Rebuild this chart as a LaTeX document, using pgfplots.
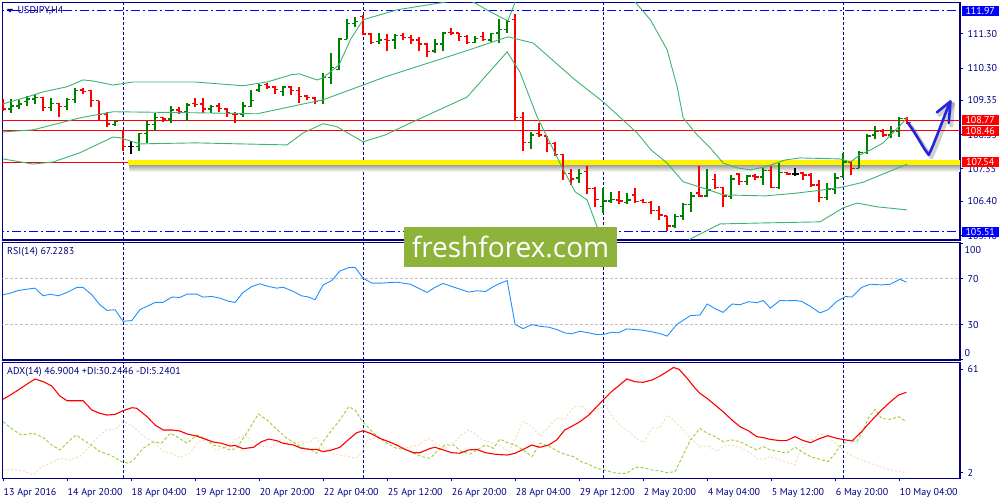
\documentclass[border=0pt]{standalone}
\usepackage{pgfplots}
\pgfplotsset{compat=1.18}
\usepackage{pgfplotstable}
\usepackage{fontspec}
\setmainfont{PT Sans}
\newfontfamily\wmfont{Open Sans}

\definecolor{navyc}{RGB}{0,0,128}
\definecolor{barg}{RGB}{0,128,0}
\definecolor{barr}{RGB}{255,0,0}
\definecolor{bbg}{RGB}{60,179,113}
\definecolor{rsic}{RGB}{30,144,255}
\definecolor{pdi}{RGB}{154,205,50}
\definecolor{mdi}{RGB}{245,218,170}
\definecolor{wm}{RGB}{141,179,58}
\definecolor{arrowb}{RGB}{35,35,225}
\definecolor{lvl}{RGB}{192,192,192}
\newcommand\lf{\fontsize{10}{12}\selectfont}

\pgfplotstableread{
x o h l c
1 109.10 109.40 108.98 109.19
2 109.19 109.37 109.10 109.25
3 109.32 109.47 109.19 109.39
4 109.39 109.54 109.25 109.43
6 109.15 109.42 109.04 109.27
8 109.17 109.43 109.07 109.37
9 109.37 109.71 109.27 109.64
14 108.64 108.78 108.59 108.73
17 108.00 108.41 107.86 108.39
18 108.39 108.76 108.10 108.64
19 108.64 108.98 108.47 108.86
21 108.81 109.19 108.70 109.07
23 109.02 109.27 108.76 109.22
26 109.10 109.21 108.98 109.17
30 108.93 109.32 108.88 109.19
31 109.17 109.66 109.15 109.35
32 109.66 109.83 109.61 109.78
35 109.61 109.78 109.48 109.74
40 109.34 110.16 109.24 110.02
41 110.02 110.75 109.83 110.31
42 110.26 111.17 110.24 111.15
43 111.14 111.73 111.14 111.61
44 111.61 111.80 111.51 111.66
47 111.07 111.33 111.00 111.12
49 111.12 111.29 110.85 111.24
54 110.80 111.14 110.73 111.00
55 111.00 111.36 110.81 111.32
59 111.04 111.24 111.02 111.17
61 111.12 111.32 111.07 111.30
62 111.32 111.73 111.04 111.43
63 111.43 111.71 111.33 111.66
66 108.12 108.44 107.92 108.34
72 107.08 107.34 106.95 107.22
75 106.25 106.78 106.05 106.41
76 106.41 106.66 106.36 106.46
78 106.37 106.64 106.33 106.44
84 105.68 106.02 105.63 105.95
85 105.97 106.36 105.86 106.30
86 106.30 106.66 106.10 106.56
88 106.56 107.34 106.52 106.73
91 106.54 107.17 106.46 107.05
93 106.98 107.17 106.88 107.14
95 107.11 107.37 106.88 107.30
97 106.81 107.52 106.75 107.24
103 106.52 106.93 106.44 106.76
104 106.76 107.22 106.62 107.08
105 107.12 107.81 107.08 107.55
107 107.37 107.86 107.37 107.83
108 107.83 108.37 107.79 108.31
109 108.34 108.59 108.22 108.44
111 108.34 108.61 108.25 108.44
112 108.44 108.86 108.28 108.83
}\upbars

\pgfplotstableread{
x o h l c
0 109.21 109.39 109.04 109.10
5 109.43 109.46 109.04 109.15
7 109.27 109.29 108.86 109.17
10 109.66 109.71 109.53 109.62
11 109.64 109.66 109.17 109.34
12 109.34 109.34 108.76 108.93
13 108.93 109.00 108.56 108.66
15 108.47 108.49 107.86 108.00
20 108.86 108.88 108.73 108.81
22 109.07 109.15 108.96 109.02
24 109.26 109.43 109.17 109.23
25 109.25 109.42 108.99 109.10
27 109.19 109.29 109.01 109.12
28 109.10 109.12 108.86 108.98
29 108.95 109.02 108.70 108.93
33 109.81 109.86 109.68 109.74
34 109.74 109.78 109.53 109.68
36 109.74 109.78 109.51 109.64
37 109.64 109.74 109.29 109.46
38 109.48 109.51 109.37 109.43
39 109.42 109.45 109.24 109.32
45 111.80 111.85 111.27 111.29
46 111.29 111.32 111.00 111.04
48 111.14 111.29 110.81 111.10
50 111.24 111.32 111.12 111.19
51 111.19 111.27 111.00 111.12
52 111.12 111.22 110.81 111.00
53 111.00 111.02 110.63 110.78
56 111.33 111.46 111.27 111.32
57 111.32 111.32 111.10 111.22
58 111.22 111.27 111.00 111.04
60 111.22 111.36 111.10 111.14
64 111.71 111.88 108.76 108.86
65 108.86 109.02 107.88 108.12
67 108.39 108.68 108.29 108.34
68 108.31 108.31 107.83 108.10
69 108.10 108.15 107.73 107.76
70 107.76 107.79 107.03 107.22
71 107.22 107.34 106.88 107.05
73 107.27 107.42 106.62 106.78
74 106.78 106.81 106.25 106.46
77 106.44 106.69 106.33 106.41
79 106.59 106.78 106.36 106.39
80 106.42 106.46 106.35 106.37
81 106.37 106.42 106.02 106.13
82 106.13 106.27 105.86 106.00
83 105.97 105.97 105.52 105.68
87 106.64 107.44 106.52 106.56
89 107.03 107.20 106.75 106.81
90 106.81 106.83 106.23 106.56
92 107.20 107.24 106.88 106.98
94 107.14 107.20 107.03 107.11
96 107.30 107.42 106.78 106.81
98 107.24 107.27 107.17 107.20
100 107.23 107.27 107.01 107.17
101 107.17 107.22 106.83 106.88
102 106.88 107.03 106.39 106.52
106 107.55 107.59 107.17 107.37
110 108.44 108.51 108.28 108.34
113 108.83 108.86 108.67 108.70
}\downbars

\pgfplotstableread{
x o h l c
16 108.00 108.17 107.79 108.00
99 107.20 107.37 107.14 107.20
}\dojibars

\pgfplotsset{
  mt/.style={scale only axis, width=957.7pt, xmin=-0.09, xmax=119.6,
    axis line style={navyc, line width=1.1pt},
    ytick pos=right, yticklabel pos=right, xtick=\empty,
    tick align=outside, major tick length=3pt,
    tick style={navyc, line width=0.8pt},
    yticklabel style={anchor=west, inner sep=0pt, xshift=4.5pt, font=\lf, text=navyc},
    extra x ticks={15,45,75,105}, extra x tick labels={},
    extra x tick style={grid=major, major tick length=0pt,
      major grid style={navyc, line width=0.9pt, dash pattern=on 3pt off 2pt}},
    clip=true},
  bars/.style 2 args={draw=none, mark=none, forget plot,
    error bars/.cd, y dir=both, y explicit, error mark=none,
    error bar style={draw=#1, line width=#2}},
  otick/.style={draw=none, mark=none, forget plot,
    error bars/.cd, x dir=minus, x fixed=0.42, error mark=none,
    error bar style={draw=#1, line width=1.3pt}},
  ctick/.style={draw=none, mark=none, forget plot,
    error bars/.cd, x dir=plus, x fixed=0.42, error mark=none,
    error bar style={draw=#1, line width=1.3pt}},
}

\begin{document}
\begin{tikzpicture}[x=1pt,y=1pt]
\path[use as bounding box] (0,0) rectangle (1000,-500);

% ---------------- main price panel ----------------
\begin{axis}[mt, at={(2.3pt,-2.3pt)}, anchor=north west, height=237.7pt,
  ymin=105.27, ymax=112.22,
  ytick={111.30,110.30,109.35,108.35,107.35,106.40,105.40},
  yticklabels={111.30,110.30,109.35,108.35,107.35,106.40,105.40}]

\draw[barr, line width=1pt] (axis cs:-1,108.77) -- (axis cs:121,108.77);
\draw[barr, line width=1pt] (axis cs:-1,108.46) -- (axis cs:121,108.46);
\draw[barr, line width=1pt] (axis cs:-1,107.54) -- (axis cs:121,107.54);
\shade[top color=black!40, bottom color=white] (axis cs:15.8,107.475) rectangle (axis cs:121,107.26);
\fill[yellow] (axis cs:15.6,107.615) rectangle (axis cs:121,107.475);
\draw[blue, line width=1pt, dash pattern=on 9pt off 3pt on 2pt off 3pt] (axis cs:-1,111.97) -- (axis cs:121,111.97);
\draw[blue, line width=1pt, dash pattern=on 9pt off 3pt on 2pt off 3pt] (axis cs:-1,105.51) -- (axis cs:121,105.51);

% OHLC bars
\addplot[bars={barg}{1.5pt}] table[x=x, y expr={(\thisrow{h}+\thisrow{l})/2}, y error expr={(\thisrow{h}-\thisrow{l})/2}] {\upbars};
\addplot[otick={barg}] table[x=x, y=o] {\upbars};
\addplot[ctick={barg}] table[x=x, y=c] {\upbars};
\addplot[bars={barr}{1.5pt}] table[x=x, y expr={(\thisrow{h}+\thisrow{l})/2}, y error expr={(\thisrow{h}-\thisrow{l})/2}] {\downbars};
\addplot[otick={barr}] table[x=x, y=o] {\downbars};
\addplot[ctick={barr}] table[x=x, y=c] {\downbars};
\addplot[bars={black}{1.5pt}] table[x=x, y expr={(\thisrow{h}+\thisrow{l})/2}, y error expr={(\thisrow{h}-\thisrow{l})/2}] {\dojibars};
\addplot[otick={black}] table[x=x, y=o] {\dojibars};
\addplot[ctick={black}] table[x=x, y=c] {\dojibars};

% Bollinger bands
\addplot[bbg, line width=0.9pt] coordinates {(0,109.25) (3,109.45) (5,109.60) (8,109.75) (10,109.95) (11.25,109.92) (13.75,109.80) (16.25,109.89) (24,109.89) (30,109.78) (33,109.89) (36,110.10) (37,110.13) (39.25,109.95) (40,110.01) (42,110.39) (43.4,111.12) (45,111.71) (49.25,112.00) (54.6,112.20) (57.1,112.29) (58.75,112.23) (60.9,111.94) (63.1,111.68) (64,112.23) (64.5,113.0) (66,114.2) (70,115.0) (75,114.4) (78,113.0) (79,112.23) (80.9,111.71) (83,110.83) (84.25,109.75) (85,108.84) (86.75,108.34) (88.4,107.96) (90,107.52) (91.75,107.38) (93.4,107.32) (95.25,107.41) (97.75,107.61) (99.6,107.67) (104.6,107.64) (105.9,107.55) (107.1,107.76) (108.4,107.90) (110,108.11) (113,108.84)};
\addplot[bbg, line width=0.9pt] coordinates {(0,108.43) (3.75,108.49) (9.6,108.84) (13.75,109.02) (24,108.99) (31.75,108.96) (40,109.37) (45,109.80) (47.75,110.04) (57.5,110.77) (63.1,111.21) (66.25,111.03) (71.5,109.95) (75,109.31) (79.25,108.40) (81,107.90) (83,107.52) (85,106.97) (87.5,106.79) (90,106.59) (95.25,106.56) (98.75,106.63) (102,106.72) (105,106.82) (107.5,106.96) (113,107.49)};
\addplot[bbg, line width=0.9pt] coordinates {(0,107.64) (3.75,107.49) (6.25,107.55) (9.6,107.82) (13.75,108.28) (14.6,108.26) (17.1,108.08) (24,108.11) (35.5,108.05) (37.5,108.40) (40,108.67) (41.75,108.58) (45,108.14) (47.75,108.34) (50.9,108.69) (58,109.45) (63,110.77) (64.6,110.18) (66.75,108.87) (69.6,107.52) (71.5,106.68) (73,106.44) (74.25,105.65) (76.5,104.69) (80.9,104.40) (84.6,104.98) (85.9,105.30) (89.6,105.74) (95.25,105.77) (102.1,105.80) (105,106.21) (106.75,106.35) (109.25,106.24) (113,106.15)};

% hand-drawn forecast arrow
\begin{scope}[xshift=2.5pt, yshift=-2.5pt]
\draw[black, opacity=0.18, line width=4pt, line cap=round, line join=round] (axis cs:113.1,108.69) .. controls (axis cs:114.2,108.35) and (axis cs:115,107.95) .. (axis cs:115.7,107.76) .. controls (axis cs:116.6,108.2) and (axis cs:117.6,108.9) .. (axis cs:118.4,109.32);
\draw[black, opacity=0.18, line width=4pt, line cap=round, line join=round] (axis cs:116.7,109.0) -- (axis cs:118.4,109.32) -- (axis cs:118.2,108.69);
\end{scope}
\draw[arrowb, line width=2.6pt, line cap=round, line join=round] (axis cs:113.1,108.69) .. controls (axis cs:114.2,108.35) and (axis cs:115,107.95) .. (axis cs:115.7,107.76) .. controls (axis cs:116.6,108.2) and (axis cs:117.6,108.9) .. (axis cs:118.4,109.32);
\draw[arrowb, line width=2.6pt, line cap=round, line join=round] (axis cs:116.7,109.0) -- (axis cs:118.4,109.32) -- (axis cs:118.2,108.69);

\coordinate (L1) at (axis cs:119.6,111.97);
\coordinate (L2) at (axis cs:119.6,108.77);
\coordinate (L3) at (axis cs:119.6,108.46);
\coordinate (L4) at (axis cs:119.6,107.54);
\coordinate (L5) at (axis cs:119.6,105.51);
\end{axis}

% ---------------- RSI panel ----------------
\begin{axis}[mt, at={(2.3pt,-242.7pt)}, anchor=north west, height=117.3pt,
  ymin=-0.3, ymax=100.9, ytick={0,30,70,100}, yticklabels={,30,70,}]
\draw[lvl, line width=0.8pt, dash pattern=on 3pt off 2pt] (axis cs:-1,70) -- (axis cs:121,70);
\draw[lvl, line width=0.8pt, dash pattern=on 3pt off 2pt] (axis cs:-1,30) -- (axis cs:121,30);
\addplot[rsic, line width=0.9pt] coordinates {(0,56.0) (0.9,57.4) (1.9,59.7) (3,60.8) (4,61.7) (5,55.1) (5.9,56.5) (6.9,55.1) (8,58.0) (9.2,62.3) (10,62.3) (11.1,56.0) (12.1,47.4) (13,42.5) (14,43.1) (15,33.1) (16.1,33.7) (17.1,43.1) (18,46.0) (19,49.4) (20,49.4) (21.1,54.0) (22.1,53.7) (23,56.5) (24.2,56.5) (25,54.0) (26.1,54.5) (27.1,53.1) (28.2,50.3) (29,49.4) (30,58.0) (31.1,63.1) (32.1,65.4) (33.2,63.1) (34.2,61.7) (35,62.5) (36.3,58.8) (37.3,55.1) (38.2,54.0) (39,51.7) (40,64.5) (41.1,68.3) (42.1,76.5) (43.2,79.4) (44,79.7) (45,70.3) (46.1,66.0) (47.1,66.0) (49.2,66.8) (50.9,65.1) (51.9,61.7) (53,58.0) (54,62.5) (55,65.7) (56.1,63.1) (57.1,60.8) (58.2,58.3) (59.2,59.4) (60.3,58.8) (61.3,63.1) (62,65.5) (63,68.3) (64,30.3) (65,26.8) (66.1,30.3) (67.1,28.8) (68.2,28.0) (69.2,26.0) (70.2,23.1) (71,22.3) (72.1,24.5) (73.2,23.1) (74.2,21.7) (75,21.7) (76.1,23.7) (76.9,23.1) (77.95,26.5) (79,26.0) (80,25.4) (81.1,24.0) (82.1,22.5) (83,20.3) (84.2,30.3) (85.9,38.0) (87.1,38.5) (88,48.0) (89,44.0) (90,40.8) (91.1,48.0) (92.1,47.4) (93.2,50.0) (94.2,49.1) (95,51.1) (95.9,44.5) (97.1,51.1) (97.9,50.8) (99,51.1) (99.8,50.3) (100.9,46.0) (102.1,40.3) (103.1,43.1) (104.2,50.3) (105.3,54.5) (106.1,54.0) (107.3,62.3) (108.4,65.1) (109.8,64.5) (110.9,65.1) (112.1,69.4) (112.9,66.8)};
\end{axis}

% ---------------- ADX panel ----------------
\begin{axis}[mt, at={(2.3pt,-362.7pt)}, anchor=north west, height=115.6pt,
  ymin=-1.2, ymax=64.8, ytick={2,61}, yticklabels={2,61},
  xtick={0,8,...,112}, xtick pos=left,
  xticklabels={13 Apr 2016,14 Apr 20:00,18 Apr 04:00,19 Apr 12:00,20 Apr 20:00,22 Apr 04:00,25 Apr 12:00,26 Apr 20:00,28 Apr 04:00,29 Apr 12:00,2 May 20:00,4 May 04:00,5 May 12:00,6 May 20:00,10 May 04:00},
  xticklabel style={anchor=north west, inner sep=0pt, yshift=-6.5pt, xshift=0.5pt, font=\lf, text=navyc}]
\addplot[mdi, line width=0.9pt, dash pattern=on 2pt off 2pt] coordinates {(0,3.5) (1.3,3.9) (2.5,3.0) (3.8,0.7) (4.8,5.4) (5.9,7.4) (7.1,10.2) (8.4,9.2) (9.6,11.2) (10.7,16.5) (11.7,21.6) (13,26.8) (14,26.4) (15,31.1) (16.1,29.2) (17.1,24.8) (18,21.6) (18.8,19.7) (20,14.0) (21.1,13.1) (22.1,10.8) (23.4,13.4) (24.4,19.7) (25.5,20.7) (26.5,15.0) (27.5,15.9) (28.4,17.8) (29.2,21.6) (30.25,23.5) (31.3,19.7) (32.3,17.2) (33.6,16.5) (34.6,20.7) (35.5,18.8) (36.5,19.7) (37.3,18.8) (38.4,19.7) (39,22.6) (40.25,15.3) (41.3,13.1) (42.1,12.1) (43.2,11.2) (44,10.2) (44.8,13.1) (45.5,20.7) (46.5,21.6) (47.5,20.7) (48.6,19.7) (49.6,15.9) (50.7,16.5) (51.9,17.8) (53.2,21.6) (54.2,18.8) (55.25,15.9) (56.3,18.8) (57.3,23.5) (58.2,26.4) (59.2,23.5) (60,20.7) (61.1,19.1) (62.1,17.5) (63.2,14.0) (64,21.0) (65,31.1) (66.1,28.3) (67.1,22.9) (68.2,28.3) (69.2,33.0) (70.2,32.5) (71.3,39.7) (72.3,40.2) (73.4,35.3) (74.2,37.8) (75.25,40.6) (76.3,33.0) (77.1,29.2) (78.2,25.4) (79.2,21.6) (80,19.1) (81.1,27.3) (82.1,27.9) (83,34.9) (84,31.1) (85,26.4) (86.1,20.7) (87.1,16.9) (88.2,17.2) (89.2,14.0) (90,17.2) (91.1,17.8) (92.1,16.5) (93.2,14.0) (94.2,10.2) (95,9.6) (95.9,11.2) (97.1,9.2) (97.9,8.3) (99,6.4) (99.6,15.0) (100.9,19.7) (102.1,24.5) (103.1,22.6) (104.2,17.8) (105.3,14.0) (106.3,11.2) (107.3,9.2) (108.4,7.4) (109.6,5.4) (110.9,3.5) (111.9,2.6) (112.9,2.2)};
\addplot[pdi, line width=0.9pt, dash pattern=on 3pt off 2pt] coordinates {(0,31.1) (1.3,26.4) (2.3,23.5) (3.8,24.5) (5,22.2) (6.1,17.8) (7.1,15.0) (7.75,17.8) (8.6,21.6) (9.2,23.5) (10,20.7) (11.3,16.9) (12.1,14.0) (13.4,12.1) (14.8,8.3) (15.7,7.4) (16.3,9.2) (17.5,15.9) (18.8,19.7) (19.8,18.8) (20.9,24.5) (21.7,22.6) (23,18.8) (24.2,23.5) (25.25,21.6) (26.3,17.8) (27.3,16.9) (28.4,15.0) (29.2,15.9) (30.7,26.4) (31.9,35.5) (33,32.1) (34.2,26.8) (35.5,21.6) (36.5,18.8) (37.3,16.5) (38.4,15.3) (39.2,13.1) (40,19.7) (41.1,26.4) (42.1,32.1) (43.2,39.7) (44,37.8) (44.8,32.1) (45.9,26.4) (47.1,21.6) (48.2,18.2) (49.2,15.9) (50.25,15.3) (51.3,13.1) (52.3,11.2) (53.4,10.2) (54.2,14.0) (55.25,17.8) (56.3,17.8) (57.3,14.0) (58.4,12.7) (59.2,15.0) (60.3,17.8) (61.3,15.9) (62.1,21.2) (63.2,18.8) (64,17.8) (65,15.0) (66.1,11.2) (67.1,18.8) (68.2,17.2) (69.2,14.6) (70.2,12.5) (71.3,11.2) (72.3,8.3) (73.4,6.4) (74.2,4.5) (75.25,3.5) (76.3,2.0) (77.1,1.6) (77.95,1.6) (79,5.1) (80,4.9) (81.1,3.5) (82.1,3.0) (83,2.0) (84,2.6) (84.9,11.2) (85.9,20.7) (87.1,27.3) (88,24.5) (89,22.6) (90,19.7) (91.1,20.7) (92.1,19.7) (93.2,17.2) (94.2,15.0) (95,16.9) (95.9,15.0) (97.1,14.0) (97.9,13.1) (99,16.5) (99.8,14.0) (100.9,11.2) (102.1,9.6) (103.1,8.3) (104,13.1) (104.6,17.2) (105.7,20.7) (106.7,19.7) (107.3,24.5) (108.2,33.6) (109,38.1) (109.8,33.0) (110.9,32.4) (111.9,34.0) (112.9,31.1)};
\addplot[red, line width=1.1pt] coordinates {(0,43.9) (0.9,46.3) (1.9,49.2) (3,52.6) (4,55.5) (5,54.0) (6.1,51.5) (7.1,45.8) (8,43.1) (10,43.1) (11.1,37.8) (12.1,35.9) (13,34.9) (14,35.3) (15,37.4) (16.1,39.1) (16.7,38.8) (18,34.0) (19,29.2) (20,26.4) (21.1,26.4) (22.1,25.8) (23,24.1) (24.2,22.9) (25,21.6) (26.3,19.5) (27.3,18.8) (28.4,17.2) (29,17.6) (30,15.7) (31.3,16.5) (32.3,19.7) (33.2,21.2) (34.2,20.3) (35,18.8) (36.3,17.8) (37.3,15.9) (38.4,15.3) (39.2,15.3) (40,14.0) (41.1,15.0) (42.1,16.5) (43.2,21.0) (44.2,24.8) (45,26.0) (46.1,24.1) (47.1,21.6) (48.2,19.7) (49.2,17.8) (50.25,15.3) (51.3,13.4) (52.1,13.4) (53.4,15.9) (54,16.5) (55,15.0) (56.1,13.4) (57.1,13.1) (58.2,15.0) (59.2,15.3) (60.3,13.4) (61.3,12.7) (62.1,12.3) (63,12.1) (64,13.1) (65,15.3) (66.1,17.8) (67.1,16.5) (68.2,17.8) (69.2,20.7) (70.2,26.4) (71,28.3) (72.1,31.1) (73.2,34.9) (74.2,39.7) (75,43.5) (76.1,48.5) (76.9,51.5) (77.95,55.5) (79,53.9) (80,53.6) (81.1,54.9) (82.1,57.2) (83,59.7) (83.8,62.1) (84.5,61.0) (85.5,55.9) (86.5,50.2) (87.1,47.3) (88,44.4) (89,40.6) (90,36.8) (91.1,32.1) (92.1,28.3) (93.2,25.8) (94.2,22.6) (95,22.0) (95.9,21.0) (97.1,20.3) (97.9,20.3) (99,22.6) (99.8,20.7) (100.9,19.1) (102.1,21.6) (103.1,23.1) (104.2,21.6) (105.3,20.7) (106.1,20.1) (107.3,25.4) (108.4,31.1) (109.8,37.8) (110.9,42.5) (111.9,46.3) (112.9,47.9)};
\end{axis}

% ---------------- labels ----------------
\tikzset{pbox/.style={anchor=west, xshift=1.5pt, inner xsep=0pt, inner ysep=0pt, minimum width=37pt, minimum height=10pt, text=white, font=\lf}}
\node[pbox, fill=blue] at (L1) {111.97};
\node[pbox, fill=barr] at (L2) {108.77};
\node[pbox, fill=barr] at (L3) {108.46};
\node[pbox, fill=barr] at (L4) {107.54};
\node[pbox, fill=blue] at (L5) {105.51};

\node[anchor=west, inner sep=0pt, text=navyc, font=\lf] at (964.5,-249.5) {100};
\node[anchor=west, inner sep=0pt, text=navyc, font=\lf] at (964.5,-353.3) {0};

\fill[navyc] (7,-9) -- (13,-9) -- (10,-12.5) -- cycle;
\node[anchor=west, inner sep=0pt, text=navyc, font=\lf] at (17.5,-11) {USDJPY,H4};
\node[anchor=west, inner sep=0pt, text=navyc, font=\lf] at (7,-251.7) {RSI(14) 67.2283};
\node[anchor=west, inner sep=0pt, text=navyc, font=\lf] at (7,-372.3) {ADX(14) 46.9004 +DI:30.2446 -DI:5.2401};

% watermark
\fill[wm] (404,-227) rectangle (617,-267);
\node[anchor=base, inner sep=0pt, text=white, font=\wmfont\fontsize{28}{28}\selectfont] at (510.5,-257.5) {freshforex.com};
\end{tikzpicture}
\end{document}
